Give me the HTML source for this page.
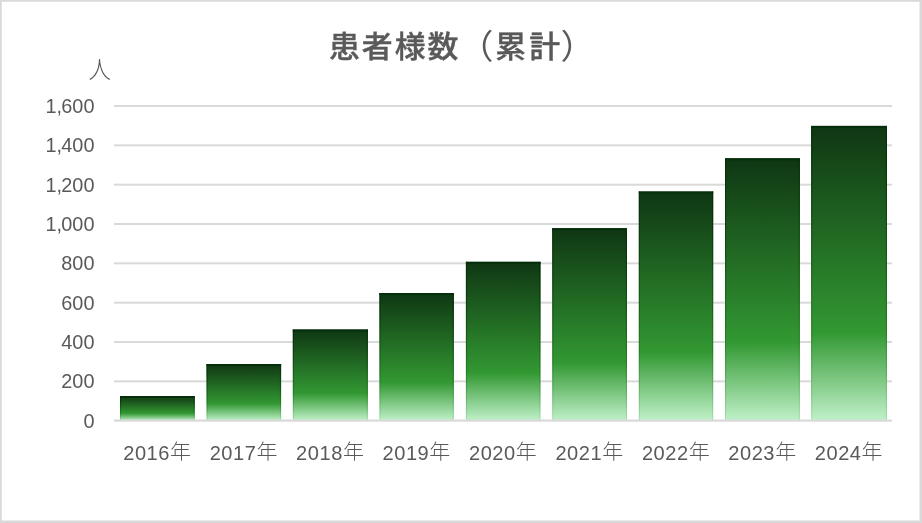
<!DOCTYPE html>
<html lang="ja"><head><meta charset="utf-8"><title>患者様数（累計）</title>
<style>
html,body{margin:0;padding:0;background:#fff;}
body{width:922px;height:523px;overflow:hidden;position:relative;}
svg{position:absolute;left:0;top:0;display:block;}
text{font-family:"Liberation Sans","Noto Sans CJK JP",sans-serif;fill:#595959;}
.title{font-weight:500;font-size:30px;stroke:#595959;stroke-width:0.4px;}
.title .p{font-size:34px;font-weight:400;stroke-width:0;}
.unit{font-weight:300;font-size:22px;}
.yl{font-size:19.3px;}
.xl{font-size:19.3px;}
.xl .d{letter-spacing:0.5px;}
.xl .k{font-size:20.2px;font-weight:300;}
</style></head><body>
<svg width="922" height="523" viewBox="0 0 922 523">
<defs>
<linearGradient id="g" x1="0" y1="0" x2="0" y2="1">
<stop offset="0" stop-color="#0f3613"/>
<stop offset="0.70" stop-color="#329832"/>
<stop offset="1" stop-color="#c0f1c9"/>
</linearGradient>
<linearGradient id="e" x1="0" y1="0" x2="0" y2="1">
<stop offset="0" stop-color="#002800" stop-opacity="0.75"/>
<stop offset="0.70" stop-color="#004000" stop-opacity="0.25"/>
<stop offset="1" stop-color="#006000" stop-opacity="0.10"/>
</linearGradient>
</defs>
<rect x="0" y="0" width="922" height="523" fill="#fff"/>
<path d="M0 0H922V523H0Z M1.75 1.75V520.5H919.5V1.75Z" fill="#d9d9d9" fill-rule="evenodd"/>

<g fill="#d9d9d9">
<rect x="114.0" y="105.00" width="778.0" height="2"/>
<rect x="114.0" y="144.34" width="778.0" height="2"/>
<rect x="114.0" y="183.68" width="778.0" height="2"/>
<rect x="114.0" y="223.01" width="778.0" height="2"/>
<rect x="114.0" y="262.35" width="778.0" height="2"/>
<rect x="114.0" y="301.69" width="778.0" height="2"/>
<rect x="114.0" y="341.02" width="778.0" height="2"/>
<rect x="114.0" y="380.36" width="778.0" height="2"/>
</g>
<rect x="120.00" y="396.00" width="74.80" height="24.70" fill="url(#g)"/>
<rect x="120.00" y="396.00" width="1.2" height="24.70" fill="url(#e)"/>
<rect x="193.60" y="396.00" width="1.2" height="24.70" fill="url(#e)"/>
<rect x="120.00" y="396.00" width="74.80" height="2" fill="#052e0a"/>
<rect x="206.50" y="364.00" width="74.60" height="56.70" fill="url(#g)"/>
<rect x="206.50" y="364.00" width="1.2" height="56.70" fill="url(#e)"/>
<rect x="279.90" y="364.00" width="1.2" height="56.70" fill="url(#e)"/>
<rect x="206.50" y="364.00" width="74.60" height="2" fill="#052e0a"/>
<rect x="292.80" y="329.50" width="75.10" height="91.20" fill="url(#g)"/>
<rect x="292.80" y="329.50" width="1.2" height="91.20" fill="url(#e)"/>
<rect x="366.70" y="329.50" width="1.2" height="91.20" fill="url(#e)"/>
<rect x="292.80" y="329.50" width="75.10" height="2" fill="#052e0a"/>
<rect x="379.40" y="293.00" width="74.50" height="127.70" fill="url(#g)"/>
<rect x="379.40" y="293.00" width="1.2" height="127.70" fill="url(#e)"/>
<rect x="452.70" y="293.00" width="1.2" height="127.70" fill="url(#e)"/>
<rect x="379.40" y="293.00" width="74.50" height="2" fill="#052e0a"/>
<rect x="465.90" y="261.80" width="74.60" height="158.90" fill="url(#g)"/>
<rect x="465.90" y="261.80" width="1.2" height="158.90" fill="url(#e)"/>
<rect x="539.30" y="261.80" width="1.2" height="158.90" fill="url(#e)"/>
<rect x="465.90" y="261.80" width="74.60" height="2" fill="#052e0a"/>
<rect x="552.20" y="228.20" width="74.80" height="192.50" fill="url(#g)"/>
<rect x="552.20" y="228.20" width="1.2" height="192.50" fill="url(#e)"/>
<rect x="625.80" y="228.20" width="1.2" height="192.50" fill="url(#e)"/>
<rect x="552.20" y="228.20" width="74.80" height="2" fill="#052e0a"/>
<rect x="638.80" y="191.50" width="74.40" height="229.20" fill="url(#g)"/>
<rect x="638.80" y="191.50" width="1.2" height="229.20" fill="url(#e)"/>
<rect x="712.00" y="191.50" width="1.2" height="229.20" fill="url(#e)"/>
<rect x="638.80" y="191.50" width="74.40" height="2" fill="#052e0a"/>
<rect x="725.00" y="158.30" width="74.90" height="262.40" fill="url(#g)"/>
<rect x="725.00" y="158.30" width="1.2" height="262.40" fill="url(#e)"/>
<rect x="798.70" y="158.30" width="1.2" height="262.40" fill="url(#e)"/>
<rect x="725.00" y="158.30" width="74.90" height="2" fill="#052e0a"/>
<rect x="811.10" y="125.90" width="75.90" height="294.80" fill="url(#g)"/>
<rect x="811.10" y="125.90" width="1.2" height="294.80" fill="url(#e)"/>
<rect x="885.80" y="125.90" width="1.2" height="294.80" fill="url(#e)"/>
<rect x="811.10" y="125.90" width="75.90" height="2" fill="#052e0a"/>
<rect x="114.0" y="419.50" width="778.0" height="2.2" fill="#d9d9d9"/>
<g class="yl" text-anchor="end">
<g transform="translate(94.45,113.00) scale(1.03,1)"><text x="0" y="0">1,<tspan dx="-0.8">600</tspan></text></g>
<g transform="translate(94.45,152.34) scale(1.03,1)"><text x="0" y="0">1,<tspan dx="-0.8">400</tspan></text></g>
<g transform="translate(94.45,191.68) scale(1.03,1)"><text x="0" y="0">1,<tspan dx="-0.8">200</tspan></text></g>
<g transform="translate(94.45,231.01) scale(1.03,1)"><text x="0" y="0">1,<tspan dx="-0.8">000</tspan></text></g>
<g transform="translate(94.45,270.35) scale(1.03,1)"><text x="0" y="0">800</text></g>
<g transform="translate(94.45,309.69) scale(1.03,1)"><text x="0" y="0">600</text></g>
<g transform="translate(94.45,349.02) scale(1.03,1)"><text x="0" y="0">400</text></g>
<g transform="translate(94.45,388.36) scale(1.03,1)"><text x="0" y="0">200</text></g>
<g transform="translate(94.45,427.70) scale(1.03,1)"><text x="0" y="0">0</text></g>
</g>
<g class="xl">
<g transform="translate(123.22,459.5) scale(1.04,1)"><text x="0" y="0"><tspan class="d">2016</tspan><tspan class="k" dx="0.1" dy="-0.6">年</tspan></text></g>
<g transform="translate(209.67,459.5) scale(1.04,1)"><text x="0" y="0"><tspan class="d">2017</tspan><tspan class="k" dx="0.1" dy="-0.6">年</tspan></text></g>
<g transform="translate(296.11,459.5) scale(1.04,1)"><text x="0" y="0"><tspan class="d">2018</tspan><tspan class="k" dx="0.1" dy="-0.6">年</tspan></text></g>
<g transform="translate(382.56,459.5) scale(1.04,1)"><text x="0" y="0"><tspan class="d">2019</tspan><tspan class="k" dx="0.1" dy="-0.6">年</tspan></text></g>
<g transform="translate(469.00,459.5) scale(1.04,1)"><text x="0" y="0"><tspan class="d">2020</tspan><tspan class="k" dx="0.1" dy="-0.6">年</tspan></text></g>
<g transform="translate(555.44,459.5) scale(1.04,1)"><text x="0" y="0"><tspan class="d">2021</tspan><tspan class="k" dx="0.1" dy="-0.6">年</tspan></text></g>
<g transform="translate(641.89,459.5) scale(1.04,1)"><text x="0" y="0"><tspan class="d">2022</tspan><tspan class="k" dx="0.1" dy="-0.6">年</tspan></text></g>
<g transform="translate(728.33,459.5) scale(1.04,1)"><text x="0" y="0"><tspan class="d">2023</tspan><tspan class="k" dx="0.1" dy="-0.6">年</tspan></text></g>
<g transform="translate(814.78,459.5) scale(1.04,1)"><text x="0" y="0"><tspan class="d">2024</tspan><tspan class="k" dx="0.1" dy="-0.6">年</tspan></text></g>
</g>
<g transform="translate(328.9,57.4) scale(1.03,1)"><text class="title" y="0"><tspan x="0 31.94 63.88 95.82">患者様数</tspan><tspan class="p" x="125.9" dy="1.4">（</tspan><tspan x="161.6 194.6" dy="-1.4">累計</tspan><tspan class="p" x="224.9" dy="1.4">）</tspan></text></g>
<g transform="translate(99.6,77.5) scale(1.02,1.1)"><text class="unit" x="0" y="0" text-anchor="middle">人</text></g>
</svg></body></html>
